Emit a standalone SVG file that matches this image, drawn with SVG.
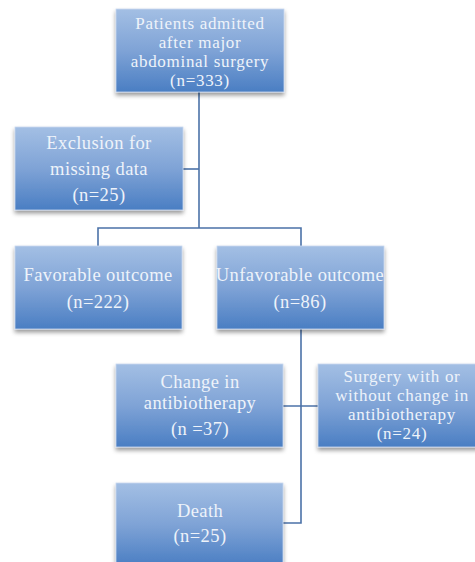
<svg xmlns="http://www.w3.org/2000/svg" width="475" height="562" viewBox="0 0 475 562">
<defs>
<linearGradient id="g" x1="0" y1="0" x2="0" y2="1">
<stop offset="0" stop-color="#a3bfe4"/>
<stop offset="0.5" stop-color="#7fa3d6"/>
<stop offset="1" stop-color="#4a7ec3"/>
</linearGradient>
<filter id="sh" x="-10%" y="-10%" width="120%" height="130%">
<feDropShadow dx="0" dy="3" stdDeviation="2" flood-color="#000" flood-opacity="0.4"/>
</filter>
<style>
.box{fill:url(#g);stroke:#c8d8ee;stroke-width:0.8;filter:url(#sh)}
.t{font-family:"Liberation Serif","DejaVu Serif",serif;font-size:18.5px;letter-spacing:0.4px;fill:#eef3fa;text-anchor:middle}
.s{font-size:17px;letter-spacing:0.7px}
.c{fill:none;stroke:#4b72a8;stroke-width:1.6}
</style>
</defs>
<rect width="475" height="562" fill="#fff"/>
<g id="connectors">
<path class="c" d="M199,92 V228"/>
<path class="c" d="M183,169 H199"/>
<path class="c" d="M98,246 V228 H301 V246"/>
<path class="c" d="M301,329 V523 H283"/>
<path class="c" d="M283,406 H318"/>
</g>
<g id="n1"><rect class="box" x="116" y="9" width="168" height="83"/>
<text class="t s" x="200" y="29">Patients admitted</text>
<text class="t s" x="200" y="48">after major</text>
<text class="t s" x="200" y="67">abdominal surgery</text>
<text class="t s" x="200" y="86">(n=333)</text></g>
<g id="n2"><rect class="box" x="15" y="127" width="168" height="83"/>
<text class="t" x="99" y="149">Exclusion for</text>
<text class="t" x="99" y="175">missing data</text>
<text class="t" x="99" y="201">(n=25)</text></g>
<g id="n3"><rect class="box" x="15" y="246" width="167" height="83"/>
<text class="t" x="98" y="281">Favorable outcome</text>
<text class="t" x="98" y="308">(n=222)</text></g>
<g id="n4"><rect class="box" x="217" y="246" width="167" height="83"/>
<text class="t" x="300" y="281">Unfavorable outcome</text>
<text class="t" x="300" y="308">(n=86)</text></g>
<g id="n5"><rect class="box" x="116" y="364" width="167" height="83"/>
<text class="t" x="200" y="388">Change in</text>
<text class="t" x="200" y="409">antibiotherapy</text>
<text class="t" x="200" y="435">(n =37)</text></g>
<g id="n6"><rect class="box" x="318" y="364" width="167" height="83"/>
<text class="t s" x="402" y="382">Surgery with or</text>
<text class="t s" x="402" y="401">without change in</text>
<text class="t s" x="402" y="420">antibiotherapy</text>
<text class="t s" x="402" y="439">(n=24)</text></g>
<g id="n7"><rect class="box" x="116" y="483" width="167" height="83"/>
<text class="t" x="200" y="517">Death</text>
<text class="t" x="200" y="542">(n=25)</text></g>
</svg>
